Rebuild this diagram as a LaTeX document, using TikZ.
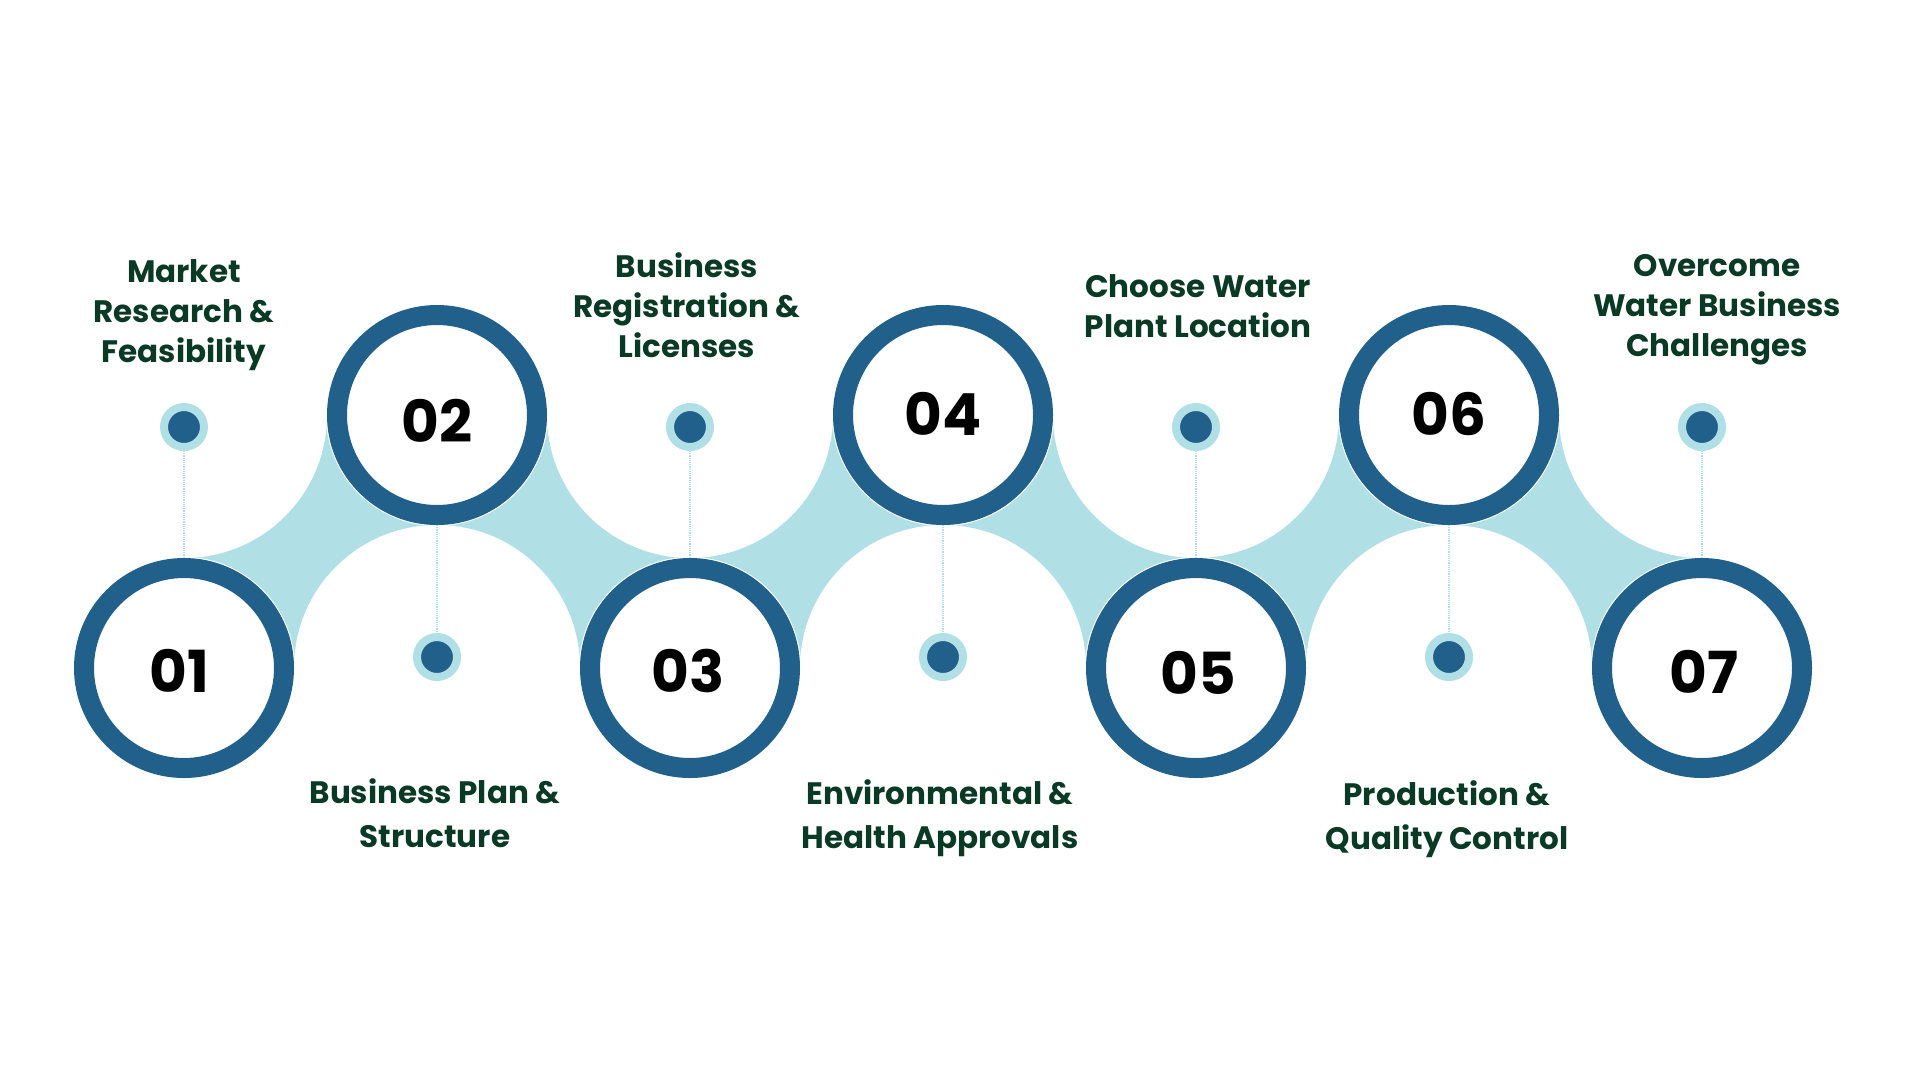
\documentclass[tikz,border=0pt]{standalone}
\usepackage{fontspec}
\setmainfont{Poppins}
\definecolor{ringc}{HTML}{21608B}
\definecolor{bandc}{HTML}{B0E0E6}
\definecolor{txtc}{HTML}{0A3A25}
\tikzset{
  stepring/.style={circle, draw=ringc, line width=20pt, fill=white, minimum size=200pt, inner sep=0pt},
  whitering/.style={circle, draw=white, line width=1.2pt, minimum size=221pt, inner sep=0pt},
  numtxt/.style={font=\fontsize{58}{58}\selectfont\bfseries, text=black, inner sep=0pt},
  dotc/.style={circle, fill=ringc, draw=bandc, line width=8pt, minimum size=40pt, inner sep=0pt},
  stem/.style={draw=bandc, line width=1.2pt, densely dotted},
  lbltop/.style={font=\fontsize{31}{40}\selectfont\bfseries, text=txtc, align=center, anchor=base, inner sep=0pt},
  lblbot/.style={font=\fontsize{31}{44}\selectfont\bfseries, text=txtc, align=center, anchor=base, inner sep=0pt},
}
\begin{document}
\begin{tikzpicture}[x=1pt,y=-1pt]
\useasboundingbox (0,0) rectangle (1920,1080);
% light band
\fill[bandc] (184,415) rectangle (1702,668);
\foreach \px/\py in {184/415,437/668,690/415,943/668,1196/415,1449/668,1702/415}
  \fill[white] (\px,\py) circle[radius=143pt];
% dots
\node[dotc] (d1) at (184,427) {};
\node[dotc] (d2) at (437,657) {};
\node[dotc] (d3) at (690,427) {};
\node[dotc] (d4) at (943,657) {};
\node[dotc] (d5) at (1196,427) {};
\node[dotc] (d6) at (1449,657) {};
\node[dotc] (d7) at (1702,427) {};
% step rings
\node[whitering] at (184,668) {};
\node[whitering] at (437,415) {};
\node[whitering] at (690,668) {};
\node[whitering] at (943,415) {};
\node[whitering] at (1196,668) {};
\node[whitering] at (1449,415) {};
\node[whitering] at (1702,668) {};
\node[stepring] (s1) at (184,668) {};
\node[stepring] (s2) at (437,415) {};
\node[stepring] (s3) at (690,668) {};
\node[stepring] (s4) at (943,415) {};
\node[stepring] (s5) at (1196,668) {};
\node[stepring] (s6) at (1449,415) {};
\node[stepring] (s7) at (1702,668) {};
% stems
\draw[stem] (d1.south) -- (s1.north);
\draw[stem] (s2.south) -- (d2.north);
\draw[stem] (d3.south) -- (s3.north);
\draw[stem] (s4.south) -- (d4.north);
\draw[stem] (d5.south) -- (s5.north);
\draw[stem] (s6.south) -- (d6.north);
\draw[stem] (d7.south) -- (s7.north);
% numbers
\node[numtxt] (n1) at (179,671) {01};
\node[numtxt] (n2) at (437,421) {02};
\node[numtxt] (n3) at (688,671) {03};
\node[numtxt] (n4) at (943,414) {04};
\node[numtxt] (n5) at (1198,673) {05};
\node[numtxt] (n6) at (1449,414) {06};
\node[numtxt] (n7) at (1704,672) {07};
% labels (anchored at the baseline of the last line)
\node[lbltop] (l1) at (184,362) {Market\\Research \&\\Feasibility};
\node[lbltop] (l3) at (687,357) {Business\\Registration \&\\Licenses};
\node[lbltop] (l5) at (1198,337) {Choose Water\\Plant Location};
\node[lbltop] (l7) at (1717,356) {Overcome\\Water Business\\Challenges};
\node[lblbot] (l2) at (435,847) {Business Plan \&\\Structure};
\node[lblbot] (l4) at (940,848) {Environmental \&\\Health Approvals};
\node[lblbot] (l6) at (1447,849) {Production \&\\Quality Control};
\end{tikzpicture}
\end{document}
